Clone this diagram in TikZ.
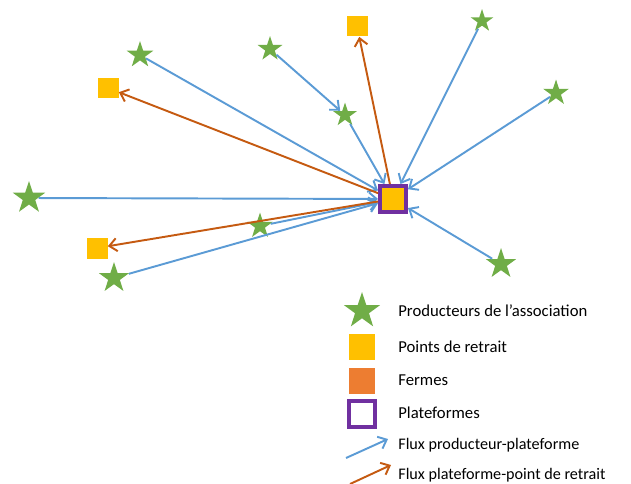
\documentclass[tikz,border=0pt]{standalone}
\usepackage{fontspec}
\setmainfont{Carlito}
\usetikzlibrary{arrows.meta,
	shapes.geometric}
\definecolor{prodgreen}{HTML}{70AD47}
\definecolor{retraityellow}{HTML}{FFC000}
\definecolor{fermeorange}{HTML}{ED7D31}
\definecolor{platpurple}{HTML}{7030A0}
\definecolor{fluxblue}{HTML}{5B9BD5}
\definecolor{livrorange}{HTML}{C55A11}

\begin{document}
\begin{tikzpicture}[x=0.02cm,y=-0.02cm,>={Straight Barb[length=1.5mm,width=2.6mm]}]
    \tikzstyle{prod}=[star,star points=5,star point ratio=2.6,fill=prodgreen,inner sep=0pt]
    \tikzstyle{retrait}=[rectangle,fill=retraityellow,minimum size=0.42cm,inner sep=0pt]
    \tikzstyle{plat}=[rectangle,draw=platpurple,line width=0.08cm,minimum size=0.52cm,inner sep=0pt]
    \tikzstyle{flux}=[draw=fluxblue,line width=1.1pt,->]
    \tikzstyle{livr}=[draw=livrorange,line width=1.1pt,->]
    \tikzstyle{legtext}=[anchor=west,inner sep=0pt,font=\fontsize{9.5}{11}\selectfont]
    \tikzstyle{legsmall}=[anchor=west,inner sep=0pt,font=\fontsize{9.2}{11}\selectfont]
    \useasboundingbox (0,0) rectangle (631,483);
    % plateforme
    \node[plat,fill=retraityellow] (plat) at (393,199) {};
    % producteurs
    \node[prod,minimum size=0.56cm] (prod_1) at (140,55) {};
    \node[prod,minimum size=0.52cm] (prod_2) at (270,49) {};
    \node[prod,minimum size=0.50cm] (prod_3) at (345,115) {};
    \node[prod,minimum size=0.48cm] (prod_4) at (482,21) {};
    \node[prod,minimum size=0.54cm] (prod_5) at (556,93) {};
    \node[prod,minimum size=0.64cm] (prod_6) at (501,264) {};
    \node[prod,minimum size=0.68cm] (prod_7) at (29,198) {};
    \node[prod,minimum size=0.54cm] (prod_8) at (260,226) {};
    \node[prod,minimum size=0.64cm] (prod_9) at (114,278) {};
    % points de retrait
    \node[retrait] (pr_1) at (108,88) {};
    \node[retrait] (pr_2) at (97,248) {};
    \node[retrait] (pr_3) at (357,26) {};
    % flux
    \draw[flux] (prod_1) -- (plat);
    \draw[flux] (prod_2) -- (prod_3);
    \draw[flux] (prod_3) -- (plat);
    \draw[flux] (prod_4) -- (plat);
    \draw[flux] (prod_5) -- (plat);
    \draw[flux] (prod_6) -- (plat);
    \draw[flux] (prod_7) -- (plat);
    \draw[flux] (prod_8) -- (plat);
    \draw[flux] (prod_9) -- (plat);
    \draw[livr] (plat) -- (pr_1);
    \draw[livr] (plat) -- (pr_2);
    \draw[livr] (plat) -- (pr_3);
    % legende
    \node[prod,minimum size=0.76cm] (leg_prod) at (362,311) {};
    \node[retrait,minimum size=0.52cm] (leg_pr) at (362,347) {};
    \node[rectangle,fill=fermeorange,minimum size=0.52cm,inner sep=0pt] (leg_ferme) at (362,381) {};
    \node[plat,fill=white] (leg_plat) at (362,414) {};
    \coordinate (leg_flux_a) at (346,458);
    \coordinate (leg_flux_b) at (388,439);
    \coordinate (leg_livr_a) at (350,484);
    \coordinate (leg_livr_b) at (391,465);
    \draw[flux] (leg_flux_a) -- (leg_flux_b);
    \draw[livr] (leg_livr_a) -- (leg_livr_b);
    \node[legtext] (t_prod) at (398,311) {Producteurs de l’association};
    \node[legtext] (t_pr) at (398,347) {Points de retrait};
    \node[legtext] (t_ferme) at (398,380) {Fermes};
    \node[legtext] (t_plat) at (398,413) {Plateformes};
    \node[legsmall] (t_flux) at (398,445) {Flux producteur-plateforme};
    \node[legsmall] (t_livr) at (398,475) {Flux plateforme-point de retrait};
  \end{tikzpicture}
\end{document}
